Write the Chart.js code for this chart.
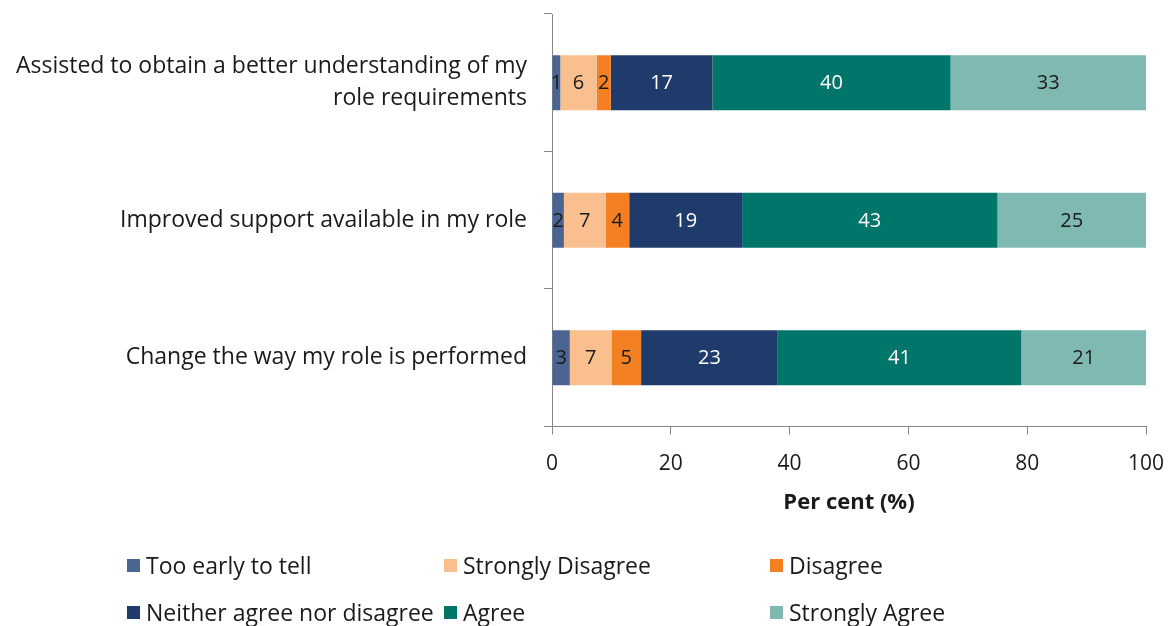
<!DOCTYPE html>
<html>
<head>
<meta charset="utf-8">
<script src="https://cdn.jsdelivr.net/npm/chart.js@4.4.0/dist/chart.umd.min.js"></script>
<style>
  html, body { margin: 0; padding: 0; background: #fff; }
  #wrap { position: relative; width: 1170px; height: 626px; }
  #c { position: absolute; left: 0; top: 0; }
  .leg { position: absolute; font-family: "Open Sans", sans-serif; font-size: 23px; color: #1a1a1a; white-space: nowrap; line-height: 28px; }
  .leg span.sw { position: absolute; left: 0; top: 8px; width: 13px; height: 13px; }
  .leg span.tx { position: absolute; left: 19px; top: 0; }
</style>
</head>
<body>
<div id="wrap">
  <canvas id="c" width="1170" height="626"></canvas>
</div>
<script>
const categories = [
  ["Assisted to obtain a better understanding of my", "role requirements"],
  "Improved support available in my role",
  "Change the way my role is performed"
];
const seriesNames = ["Too early to tell", "Strongly Disagree", "Disagree", "Neither agree nor disagree", "Agree", "Strongly Agree"];
const tooEarly = [1.4, 2, 3];
const stronglyDisagree = [6.1, 7, 7];
const disagree = [2.4, 4, 5];
const neither = [17.1, 19, 23];
const agree = [40.1, 43, 41];
const stronglyAgree = [32.9, 25, 21];
const xTicks = [0, 20, 40, 60, 80, 100];

const colors = ["#4a6591", "#f9bf8f", "#f38124", "#1f3b6b", "#00756a", "#80b8b2"];
const labelColors = ["#1a1a1a", "#1a1a1a", "#1a1a1a", "#ffffff", "#ffffff", "#1a1a1a"];
const seriesValues = [tooEarly, stronglyDisagree, disagree, neither, agree, stronglyAgree];

const FONT = "'Open Sans', sans-serif";

const barLabels = {
  id: 'barLabels',
  afterDatasetsDraw(chart) {
    const ctx = chart.ctx;
    ctx.save();
    ctx.font = "20px " + FONT;
    ctx.textAlign = "center";
    ctx.textBaseline = "middle";
    chart.data.datasets.forEach((ds, di) => {
      const meta = chart.getDatasetMeta(di);
      meta.data.forEach((bar, i) => {
        const cx = (bar.x + bar.base) / 2;
        ctx.fillStyle = labelColors[di];
        ctx.fillText(String(Math.round(ds.data[i])), cx, bar.y + 1);
      });
    });
    ctx.restore();
  }
};

new Chart(document.getElementById('c'), {
  type: 'bar',
  data: {
    labels: categories,
    datasets: seriesNames.map((n, i) => ({
      label: n,
      data: seriesValues[i],
      backgroundColor: colors[i],
      borderWidth: 0,
      barPercentage: 0.4,
      categoryPercentage: 1.0
    }))
  },
  options: {
    indexAxis: 'y',
    responsive: false,
    animation: false,
    layout: { padding: { top: 14, right: 24, bottom: 106, left: 0 } },
    plugins: { legend: { display: false }, tooltip: { enabled: false } },
    scales: {
      x: {
        stacked: true,
        min: 0, max: 100,
        afterBuildTicks(scale) { scale.ticks = xTicks.map(v => ({ value: v })); },
        afterFit(scale) { scale.paddingLeft = 0; scale.paddingRight = 0; },
        grid: { drawOnChartArea: false, drawTicks: true, tickLength: 8, color: '#868686' },
        border: { display: true, color: '#868686', width: 1 },
        ticks: { font: { family: FONT, size: 21 }, color: '#1a1a1a', padding: 17, maxRotation: 0 },
        title: { display: true, text: 'Per cent (%)', font: { family: FONT, size: 22, weight: 'bold' }, color: '#1a1a1a', padding: { top: -4, bottom: 4 } }
      },
      y: {
        stacked: true,
        afterFit(scale) { scale.width = 552; scale.paddingTop = 0; scale.paddingBottom = 0; },
        grid: { drawOnChartArea: false, drawTicks: true, tickLength: 8, color: '#868686', offset: true },
        border: { display: true, color: '#868686', width: 1 },
        ticks: { font: { family: FONT, size: 23, lineHeight: 1.4 }, color: '#1a1a1a', padding: 17 }
      }
    }
  },
  plugins: [barLabels]
});

// HTML legend in a 3-column grid built from the series arrays
const legCols = [127, 444, 770];
const legRows = [551, 598];
const wrap = document.getElementById('wrap');
seriesNames.forEach((n, i) => {
  const d = document.createElement('div');
  d.className = 'leg';
  d.style.left = legCols[i % 3] + 'px';
  d.style.top = legRows[Math.floor(i / 3)] + 'px';
  const sw = document.createElement('span');
  sw.className = 'sw';
  sw.style.background = colors[i];
  const tx = document.createElement('span');
  tx.className = 'tx';
  tx.textContent = n;
  d.appendChild(sw); d.appendChild(tx);
  wrap.appendChild(d);
});
</script>
</body>
</html>
